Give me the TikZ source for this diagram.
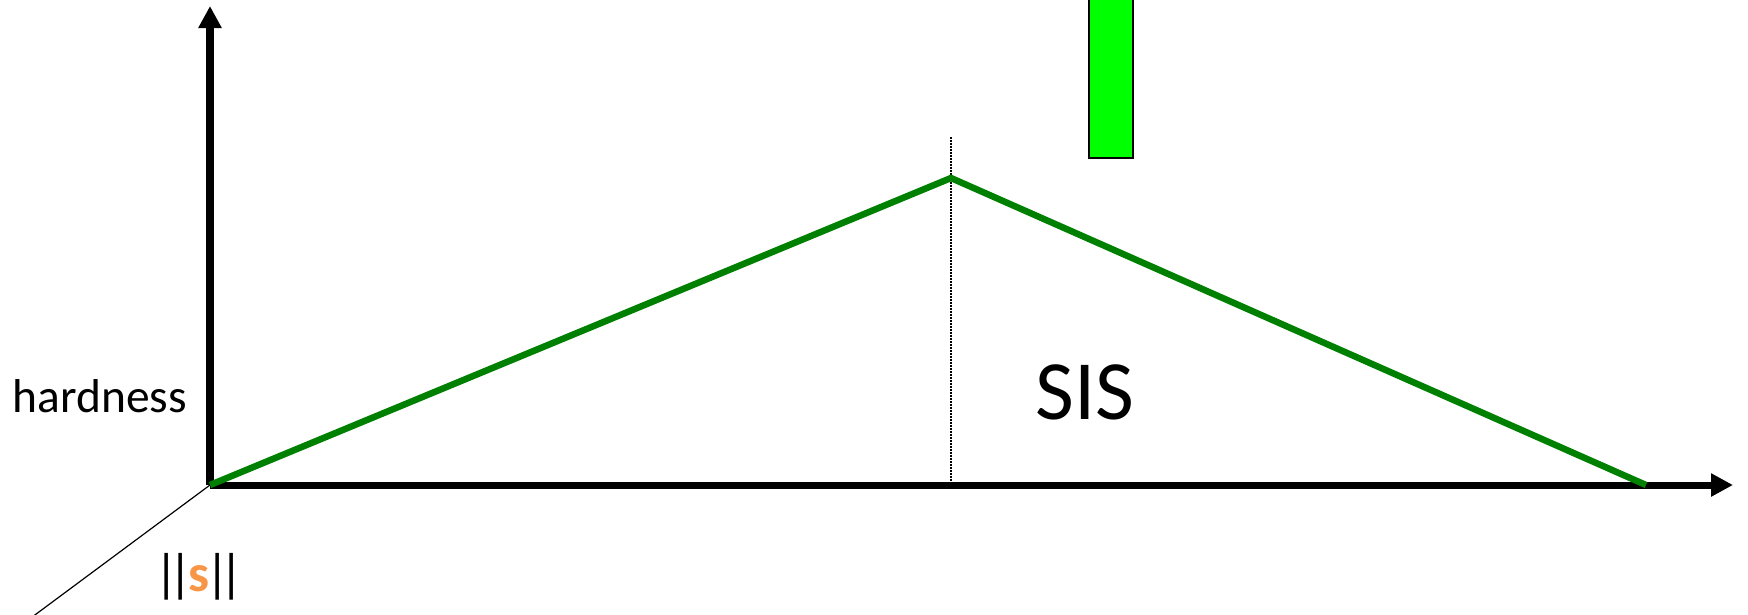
\documentclass[tikz,border=0pt]{standalone}
\usepackage{fontspec}
\setmainfont{Carlito}
\usetikzlibrary{arrows.meta}
\definecolor{curvegreen}{RGB}{0,128,0}
\definecolor{barlime}{RGB}{0,255,0}
\definecolor{normorange}{RGB}{247,150,70}
\newcommand{\normbars}{|\kern-0.2em|}

\begin{document}
\begin{tikzpicture}[
  x=0.01cm,y=-0.01cm,
  axisline/.style={line width=0.07cm,-{Triangle[length=0.22cm,width=0.22cm]}},
  curve/.style={line width=0.065cm,draw=curvegreen},
  axislabel/.style={inner sep=0pt,font=\fontsize{13.5}{16}\selectfont},
  biglabel/.style={inner sep=0pt,font=\fontsize{24}{28}\selectfont}
]
\useasboundingbox (0,0) rectangle (1748,614);
% points of the plot
\coordinate (origin) at (210,485);
\coordinate (ytip) at (210,6);
\coordinate (xtip) at (1733,485);
\coordinate (depth) at (20,626);
\coordinate (peak) at (951,178);
\coordinate (peaktop) at (951,137);
\coordinate (peakfoot) at (951,485);
\coordinate (tail) at (1646,485);
% bar at the top
\draw[fill=barlime,line width=0.012cm] (1089,-5) rectangle (1133,158);
% axes
\draw[line width=0.012cm] (origin) -- (depth);
\draw[line width=0.012cm,dash pattern=on 0.015cm off 0.015cm] (peaktop) -- (peakfoot);
\draw[axisline] (origin) -- (ytip);
\draw[axisline] (origin) -- (xtip);
% hardness curve
\draw[curve] (origin) -- (peak) -- (tail);
% labels
\node[axislabel,anchor=base west] (hard) at (12,412) {hardness};
\node[axislabel,anchor=base west,font=\fontsize{15}{17}\selectfont] (norm) at (154,591)
  {\normbars\kern-0.08em\textcolor{normorange}{\textbf{s}}\kern-0.08em\normbars};
\node[biglabel,anchor=base west] (sis) at (1035,419) {SIS};
\end{tikzpicture}
\end{document}
